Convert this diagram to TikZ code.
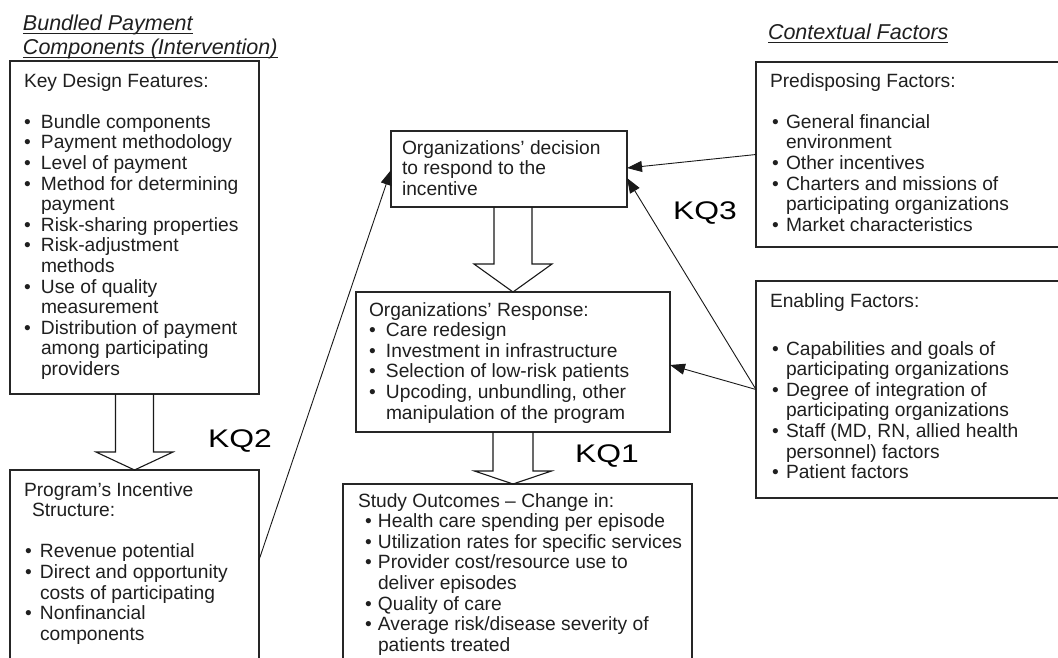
\documentclass[tikz,border=0pt]{standalone}
\usepackage{fontspec}
\setmainfont{Liberation Sans}
\usetikzlibrary{arrows.meta,calc}
\newcommand{\bu}{\makebox[17pt][l]{•}}
\newcommand{\bi}{\hspace*{17pt}}
\newcommand{\bp}{\hspace*{1pt}\makebox[15pt][l]{•}}
\newcommand{\bpi}{\hspace*{16pt}}
\newcommand{\bo}{\hspace*{7pt}\makebox[13pt][l]{•}}
\newcommand{\boi}{\hspace*{20pt}}
\newcommand{\bc}{\hspace*{2pt}\makebox[14pt][l]{•}}
\newcommand{\bci}{\hspace*{16pt}}
\newcommand{\myul}[1]{\setbox0\hbox{#1}\rlap{\rule[-3.6pt]{\wd0}{0.9pt}}\box0}
% block arrow: start anchor (gives x), tip anchor (gives y), shaft half width, head half width, head length
\newcommand{\barrow}[5]{\draw[barr] let \p1=(#1), \p2=(#2) in
  (\x1-#3,\y1) -- (\x1-#3,\y2+#5) -- (\x1-#4,\y2+#5) -- (\x1,\y2)
  -- (\x1+#4,\y2+#5) -- (\x1+#3,\y2+#5) -- (\x1+#3,\y1);}
\tikzset{
  box/.style={draw=black!85, line width=1.2pt, anchor=north west, inner sep=0pt, outer sep=0pt},
  txt/.style={anchor=north west, inner sep=0pt, outer sep=0pt, align=left,
    font=\fontsize{19.2}{20.6}\selectfont, text=black!88},
  head/.style={anchor=north west, inner sep=0pt, outer sep=0pt, align=left,
    font=\fontsize{21.5}{24}\selectfont\itshape, text=black!88},
  kq/.style={inner sep=0pt, font=\fontsize{25.5}{28}\selectfont},
  barr/.style={draw=black!90, line width=1.1pt, line join=miter},
  conn/.style={draw=black!90, line width=0.9pt, -{Triangle[length=15pt,width=11pt]}}
}
\begin{document}
\begin{tikzpicture}[x=1pt,y=-1pt]
\useasboundingbox (0,0) rectangle (1058,657);
\clip (0,0) rectangle (1058,657);
\fill[white] (0,0) rectangle (1058,657);

% headings
\node[head] (h1) at (23,13.9) {\strut\myul{Bundled Payment}\\\myul{Components (Intervention)}};
\node[head] (h2) at (768,22.9) {\strut\myul{Contextual Factors}};

% boxes
\node[box, minimum width=249pt, minimum height=333pt] (kdf) at (10,61) {};
\node[box, minimum width=249pt, minimum height=210pt] (pis) at (10,470) {};
\node[box, minimum width=236pt, minimum height=76pt] (dec) at (391,131) {};
\node[box, minimum width=314pt, minimum height=140pt] (resp) at (356,292) {};
\node[box, minimum width=349pt, minimum height=200pt] (out) at (343,484) {};
\node[box, minimum width=330pt, minimum height=185pt] (pre) at (756,62) {};
\node[box, minimum width=330pt, minimum height=217pt] (ena) at (756,281) {};

% texts
\node[txt] (kdft) at (24,72.6) {\strut Key Design Features:\\ ~\\
\bu Bundle components\\
\bu Payment methodology\\
\bu Level of payment\\
\bu Method for determining\\
\bi payment\\
\bu Risk-sharing properties\\
\bu Risk-adjustment\\
\bi methods\\
\bu Use of quality\\
\bi measurement\\
\bu Distribution of payment\\
\bi among participating\\
\bi providers};

\node[txt] (pist) at (24,481.6) {\strut Program’s Incentive\\
\hspace*{8pt}Structure:\\ ~\\
\bp Revenue potential\\
\bp Direct and opportunity\\
\bpi costs of participating\\
\bp Nonfinancial\\
\bpi components};

\node[txt] (dect) at (402,139.6) {\strut Organizations’ decision\\to respond to the\\incentive};

\node[txt] (respt) at (369,301.6) {\strut Organizations’ Response:\\
\bu Care redesign\\
\bu Investment in infrastructure\\
\bu Selection of low-risk patients\\
\bu Upcoding, unbundling, other\\
\bi manipulation of the program};

\node[txt] (outt) at (358,492.6) {\strut Study Outcomes – Change in:\\
\bo Health care spending per episode\\
\bo Utilization rates for specific services\\
\bo Provider cost/resource use to\\
\boi deliver episodes\\
\bo Quality of care\\
\bo Average risk/disease severity of\\
\boi patients treated};

\node[txt] (pret) at (770,72.6) {\strut Predisposing Factors:\\ ~\\
\bc General financial\\
\bci environment\\
\bc Other incentives\\
\bc Charters and missions of\\
\bci participating organizations\\
\bc Market characteristics};

\node[txt] (enat) at (770,292.6) {\strut Enabling Factors:\\[27.4pt]
\bc Capabilities and goals of\\
\bci participating organizations\\
\bc Degree of integration of\\
\bci participating organizations\\
\bc Staff (MD, RN, allied health\\
\bci personnel) factors\\
\bc Patient factors};

% KQ labels
\node[kq] (kq2) at (240,441) {\scalebox{1.25}[1]{KQ2}};
\node[kq] (kq1) at (607,456) {\scalebox{1.25}[1]{KQ1}};
\node[kq] (kq3) at (705,213) {\scalebox{1.25}[1]{KQ3}};

% block arrows
\barrow{kdf.south}{pis.north}{19pt}{38.5pt}{18pt}
\barrow{$(dec.south)+(4,0)$}{resp.north}{19pt}{39pt}{28pt}
\barrow{resp.south}{out.north}{20pt}{38.5pt}{13pt}

% connectors
\draw[conn] ($(pis.north east)+(0,90)$) -- ($(dec.west)+(0,1)$);
\draw[conn] (pre.west) -- ($(dec.east)+(0,-1)$);
\draw[conn] (ena.west) -- ($(dec.east)+(0,9)$);
\draw[conn] (ena.west) -- ($(resp.east)+(0,3)$);
\end{tikzpicture}
\end{document}
